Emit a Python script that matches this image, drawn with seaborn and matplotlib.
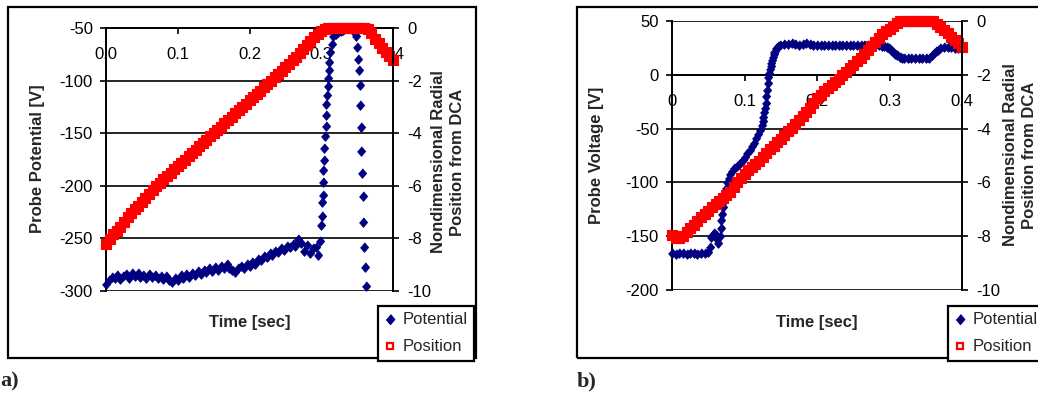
import seaborn as sns
import matplotlib.pyplot as plt
from matplotlib.lines import Line2D
from matplotlib.patches import Rectangle

# ---------------- panel a) data ----------------
time_pot_a = [
    0.000, 0.004, 0.008, 0.012, 0.016, 0.020, 0.024, 0.028, 0.032, 0.036,
    0.040, 0.044, 0.048, 0.052, 0.056, 0.060, 0.064, 0.068, 0.072, 0.076,
    0.080, 0.084, 0.088, 0.092, 0.096, 0.100, 0.104, 0.108, 0.112, 0.116,
    0.120, 0.124, 0.128, 0.132, 0.136, 0.140, 0.144, 0.148, 0.152, 0.156,
    0.160, 0.164, 0.168, 0.172, 0.176, 0.180, 0.184, 0.188, 0.192, 0.196,
    0.200, 0.204, 0.208, 0.212, 0.216, 0.220, 0.224, 0.228, 0.232, 0.236,
    0.240, 0.244, 0.248, 0.252, 0.256, 0.260, 0.264, 0.268, 0.272, 0.276,
    0.280, 0.284, 0.288, 0.292, 0.296,
    0.2985, 0.3000, 0.3006, 0.3012, 0.3018, 0.3024, 0.3030, 0.3036, 0.3044,
    0.3052, 0.3060, 0.3066, 0.3072, 0.3080, 0.3088, 0.3096, 0.3104, 0.3114,
    0.3126, 0.3146, 0.3170, 0.3200, 0.3240, 0.3280, 0.3310, 0.3350, 0.3390,
    0.3420, 0.3450, 0.3470,
    0.3484, 0.3500, 0.3512, 0.3524, 0.3536, 0.3544, 0.3550, 0.3556, 0.3566,
    0.3578, 0.3588, 0.3600, 0.3612, 0.3624,
]
pot_a = [
    -293, -290, -287, -288, -285, -289, -286, -284, -288, -283,
    -286, -283, -287, -285, -288, -284, -287, -285, -288, -286,
    -289, -286, -290, -291, -288, -290, -285, -288, -284, -287,
    -283, -285, -281, -284, -280, -282, -278, -281, -277, -280,
    -276, -278, -274, -278, -280, -282, -278, -276, -278, -274,
    -276, -272, -274, -270, -271, -267, -268, -264, -266, -262,
    -263, -259, -261, -257, -258, -255, -257, -251, -254, -262,
    -256, -264, -259, -258, -266,
    -252, -237, -229, -215, -209, -196, -185, -175, -164,
    -153, -143, -133, -122, -114, -105, -98, -90, -82,
    -73, -65, -58, -56, -54, -53, -52, -50, -50,
    -50, -52, -55,
    -58, -68, -79, -90, -104, -123, -144, -167, -188,
    -210, -234, -258, -277, -295,
]
time_pos_a = [
    0.000, 0.005, 0.010, 0.015, 0.020, 0.025, 0.030, 0.035, 0.040, 0.045,
    0.050, 0.055, 0.060, 0.065, 0.070, 0.075, 0.080, 0.085, 0.090, 0.095,
    0.100, 0.105, 0.110, 0.115, 0.120, 0.125, 0.130, 0.135, 0.140, 0.145,
    0.150, 0.155, 0.160, 0.165, 0.170, 0.175, 0.180, 0.185, 0.190, 0.195,
    0.200, 0.205, 0.210, 0.215, 0.220, 0.225, 0.230, 0.235, 0.240, 0.245,
    0.250, 0.255, 0.260, 0.265, 0.270, 0.275, 0.280, 0.285, 0.290, 0.295,
    0.300, 0.305, 0.310, 0.315, 0.320, 0.325, 0.330, 0.335, 0.340, 0.345,
    0.350, 0.355, 0.360, 0.365, 0.370, 0.375, 0.380, 0.385, 0.390, 0.395,
    0.400,
]
pos_a = [
    -8.20, -8.02, -7.85, -7.70, -7.55, -7.38, -7.20, -7.05, -6.90, -6.75,
    -6.60, -6.45, -6.30, -6.15, -6.00, -5.88, -5.75, -5.62, -5.50, -5.38,
    -5.25, -5.12, -5.00, -4.88, -4.75, -4.62, -4.50, -4.38, -4.25, -4.12,
    -4.00, -3.88, -3.75, -3.62, -3.50, -3.38, -3.25, -3.12, -3.00, -2.88,
    -2.75, -2.62, -2.50, -2.38, -2.25, -2.12, -2.00, -1.88, -1.75, -1.62,
    -1.48, -1.35, -1.22, -1.09, -0.96, -0.80, -0.65, -0.50, -0.35, -0.22,
    -0.10, -0.03, 0.00, 0.00, 0.00, 0.00, 0.00, 0.00, 0.00, 0.00,
    0.00, 0.00, 0.00, -0.02, -0.20, -0.40, -0.58, -0.76, -0.92, -1.06,
    -1.20,
]

# ---------------- panel b) data ----------------
time_pot_b = [
    0.000, 0.005, 0.010, 0.015, 0.020, 0.025, 0.030, 0.035, 0.040, 0.045, 0.050,
    0.052, 0.054, 0.056, 0.058, 0.060, 0.062, 0.064, 0.066, 0.067, 0.068,
    0.069, 0.070, 0.071, 0.072, 0.073, 0.074, 0.076, 0.078, 0.080, 0.083,
    0.086, 0.089, 0.092, 0.095, 0.098, 0.101, 0.104, 0.107, 0.110, 0.113,
    0.116, 0.119, 0.122, 0.124, 0.125, 0.126, 0.127, 0.128, 0.129, 0.130,
    0.131, 0.132, 0.133, 0.134, 0.135, 0.136, 0.137, 0.138, 0.139, 0.140,
    0.141, 0.142, 0.144, 0.146, 0.149,
    0.155, 0.160, 0.165, 0.170, 0.175, 0.180, 0.185, 0.190, 0.195, 0.200,
    0.205, 0.210, 0.215, 0.220, 0.225, 0.230, 0.235, 0.240, 0.245, 0.250,
    0.255, 0.260, 0.265, 0.270, 0.275, 0.280, 0.285, 0.290,
    0.293, 0.296, 0.299, 0.302, 0.305, 0.308, 0.311, 0.314, 0.317,
    0.320, 0.325, 0.330, 0.335, 0.340, 0.345, 0.350, 0.355,
    0.358, 0.361, 0.364, 0.367, 0.370, 0.375, 0.380, 0.385, 0.390, 0.395, 0.400,
]
pot_b = [
    -166, -167, -166, -166, -167, -166, -166, -167, -166, -166, -165,
    -160, -151, -148, -147, -149, -153, -156, -150, -142, -135,
    -129, -123, -118, -113, -109, -105, -100, -96, -92, -89,
    -87, -85, -83, -81, -79, -76, -73, -70, -66, -63,
    -59, -55, -51, -47, -43, -39, -35, -31, -26, -20,
    -14, -8, -2, 2, 5, 8, 11, 14, 17, 19,
    21, 22, 25, 27, 28,
    29, 29, 30, 29, 28, 29, 30, 29, 28, 28,
    28, 28, 28, 28, 28, 28, 28, 28, 28, 28,
    28, 28, 28, 28, 28, 28, 28, 27,
    27, 26, 25, 23, 21, 19, 18, 17, 16,
    16, 16, 16, 16, 16, 16, 16, 16,
    18, 20, 22, 23, 25, 26, 26, 26, 25, 25, 25,
]
time_pos_b = list(time_pos_a)
pos_b = [
    -7.96, -8.05, -8.08, -8.00, -7.85, -7.71, -7.57, -7.43, -7.29, -7.16,
    -7.05, -6.93, -6.82, -6.70, -6.58, -6.46, -6.34, -6.17, -6.00, -5.82,
    -5.67, -5.55, -5.43, -5.31, -5.19, -5.04, -4.90, -4.77, -4.63, -4.50,
    -4.37, -4.23, -4.10, -3.97, -3.82, -3.67, -3.52, -3.37, -3.22, -3.06,
    -2.87, -2.74, -2.62, -2.50, -2.38, -2.26, -2.14, -2.02, -1.88, -1.75,
    -1.62, -1.50, -1.37, -1.22, -1.07, -0.92, -0.77, -0.62, -0.50, -0.38,
    -0.28, -0.18, -0.06, 0.00, 0.00, 0.00, 0.00, 0.00, 0.00, 0.00,
    0.00, 0.00, 0.00, -0.10, -0.22, -0.35, -0.46, -0.58, -0.70, -0.83,
    -0.95,
]

x_ticks = [0.0, 0.1, 0.2, 0.3, 0.4]
x_labels_a = ['0.0', '0.1', '0.2', '0.3', '0.4']
x_labels_b = ['0', '0.1', '0.2', '0.3', '0.4']
y_ticks_a = [-300, -250, -200, -150, -100, -50]
y_ticks_b = [-200, -150, -100, -50, 0, 50]
right_ticks = [-10, -8, -6, -4, -2, 0]

NAVY = '#000080'
RED = '#ff0000'
DIAMOND = [(0, 1), (0.85, 0), (0, -1), (-0.85, 0)]

sns.set_style('white')
plt.rcParams['font.family'] = ['Liberation Sans', 'DejaVu Sans']
plt.rcParams['axes.unicode_minus'] = False

W, H = 1038, 396
fig = plt.figure(figsize=(W / 100, H / 100), dpi=100)


def fx(px):
    return px / W


def fy(py):
    return 1 - py / H


def make_panel(rect, t_pot, pot, t_pos, pos, ylim, yticks, xaxis_y, xlabels):
    ax = fig.add_axes(rect)
    ax.patch.set_alpha(0)
    sns.scatterplot(x=t_pot, y=pot, ax=ax, marker=DIAMOND, s=45, color=NAVY,
                    edgecolor=NAVY, linewidth=0.8, clip_on=False, zorder=3)
    ax.set_xlim(0, 0.4)
    ax.set_ylim(*ylim)
    ax.set_yticks(yticks)
    ax.set_xticks(x_ticks)
    ax.set_xticklabels(xlabels)
    ax.grid(False)
    ax.yaxis.grid(True, color='black', linewidth=1.2)
    ax.spines['bottom'].set_position(('data', xaxis_y))
    ax.spines['top'].set_visible(False)
    ax.spines['right'].set_visible(False)
    for s in ['bottom', 'left']:
        ax.spines[s].set_color('black')
        ax.spines[s].set_linewidth(1.4)
    ax.tick_params(axis='x', bottom=True, direction='out', length=4, width=1.2,
                   pad=10, labelsize=12, colors='black')
    ax.tick_params(axis='y', left=True, direction='out', length=4.5, width=1.2,
                   pad=5, labelsize=12, colors='black')
    ax.set_xlabel('')
    ax.set_ylabel('')

    ax2 = ax.twinx()
    sns.scatterplot(x=t_pos, y=pos, ax=ax2, marker='s', s=50, color=RED,
                    edgecolor=RED, linewidth=0.8, clip_on=False)
    ax2.set_ylim(-10, 0)
    ax2.set_yticks(right_ticks)
    ax2.grid(False)
    for s in ['top', 'bottom', 'left']:
        ax2.spines[s].set_visible(False)
    ax2.spines['right'].set_color('black')
    ax2.spines['right'].set_linewidth(1.4)
    ax2.tick_params(axis='y', right=True, direction='out', length=4, width=1.2,
                    pad=6, labelsize=12, colors='black')
    ax2.set_ylabel('')
    return ax, ax2


make_panel([fx(106), fy(291), fx(287), 263 / H], time_pot_a, pot_a,
           time_pos_a, pos_a, (-300, -50), y_ticks_a, -50, x_labels_a)
make_panel([fx(672), fy(290), fx(290), 269 / H], time_pot_b, pot_b,
           time_pos_b, pos_b, (-200, 50), y_ticks_b, 0, x_labels_b)

# axis titles
fig.text(fx(38), fy(159), 'Probe Potential [V]', rotation=90, ha='center',
         va='center', fontsize=12, fontweight='bold')
fig.text(fx(448), fy(162), 'Nondimensional Radial\nPosition from DCA',
         rotation=90, ha='center', va='center', fontsize=12,
         fontweight='bold', linespacing=1.35)
fig.text(fx(250), fy(323), 'Time [sec]', ha='center', va='center',
         fontsize=12, fontweight='bold')
fig.text(fx(597), fy(155), 'Probe Voltage [V]', rotation=90, ha='center',
         va='center', fontsize=12, fontweight='bold')
fig.text(fx(1020), fy(155), 'Nondimensional Radial\nPosition from DCA',
         rotation=90, ha='center', va='center', fontsize=12,
         fontweight='bold', linespacing=1.35)
fig.text(fx(817), fy(322), 'Time [sec]', ha='center', va='center',
         fontsize=12, fontweight='bold')

# panel letters
fig.text(fx(0), fy(381), 'a)', ha='left', va='center', fontsize=16,
         fontweight='bold', family=['Liberation Serif', 'DejaVu Serif'])
fig.text(fx(577), fy(381), 'b)', ha='left', va='center', fontsize=16,
         fontweight='bold', family=['Liberation Serif', 'DejaVu Serif'])

# outer chart frames
fig.add_artist(Rectangle((fx(8), fy(358)), fx(468), 351 / H, fill=False,
                         edgecolor='black', linewidth=1.6,
                         transform=fig.transFigure))
fig.add_artist(Rectangle((fx(577), fy(358)), fx(470), 351 / H, fill=False,
                         edgecolor='black', linewidth=1.6,
                         transform=fig.transFigure))

# legends
handles = [
    Line2D([], [], linestyle='none', marker=DIAMOND, markersize=7,
           color=NAVY, markeredgecolor=NAVY),
    Line2D([], [], linestyle='none', marker='s', markersize=5,
           markerfacecolor='white', markeredgecolor=RED, markeredgewidth=1.6),
]
labels = ['Potential', 'Position']
for left in (378, 948):
    leg = fig.legend(handles, labels, loc='upper left',
                     bbox_to_anchor=(fx(left), fy(306)),
                     bbox_transform=fig.transFigure, frameon=True,
                     fancybox=False, edgecolor='black', framealpha=1,
                     borderaxespad=0, fontsize=12, handlelength=0.7,
                     handletextpad=0.4, borderpad=0.38, labelspacing=0.72)
    leg.get_frame().set_linewidth(1.6)

fig.savefig('out.png', dpi=100)
